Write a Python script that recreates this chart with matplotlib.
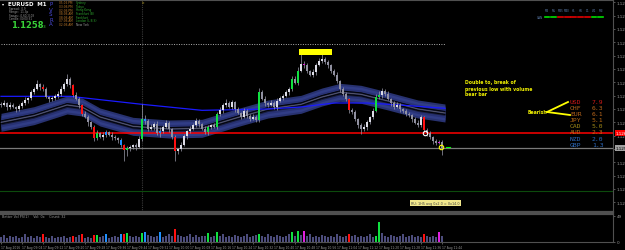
import matplotlib
matplotlib.use("Agg")
import matplotlib.pyplot as plt
from matplotlib.patches import Rectangle
from matplotlib.transforms import blended_transform_factory

W, H = 625, 251

# EURUSD M1 closes, 17 Aug 2016
closes = [
    1.12646, 1.12649, 1.12643, 1.12646, 1.12643, 1.12640, 1.12644, 1.12649, 1.12653, 1.12656,
    1.12665, 1.12670, 1.12677, 1.12673, 1.12670, 1.12658, 1.12655, 1.12656, 1.12660, 1.12662,
    1.12670, 1.12677, 1.12685, 1.12676, 1.12661, 1.12655, 1.12646, 1.12632, 1.12628, 1.12620,
    1.12613, 1.12596, 1.12604, 1.12598, 1.12601, 1.12605, 1.12601, 1.12598, 1.12596, 1.12593,
    1.12586, 1.12578, 1.12581, 1.12583, 1.12586, 1.12583, 1.12595, 1.12625, 1.12622, 1.12610,
    1.12613, 1.12617, 1.12604, 1.12607, 1.12613, 1.12619, 1.12610, 1.12598, 1.12577, 1.12580,
    1.12586, 1.12599, 1.12607, 1.12610, 1.12616, 1.12622, 1.12617, 1.12610, 1.12605, 1.12613,
    1.12616, 1.12613, 1.12632, 1.12638, 1.12646, 1.12649, 1.12643, 1.12650, 1.12640, 1.12634,
    1.12628, 1.12637, 1.12630, 1.12625, 1.12628, 1.12624, 1.12665, 1.12655, 1.12649, 1.12646,
    1.12649, 1.12643, 1.12652, 1.12656, 1.12660, 1.12665, 1.12670, 1.12685, 1.12679, 1.12697,
    1.12708, 1.12706, 1.12697, 1.12691, 1.12695, 1.12706, 1.12712, 1.12715, 1.12710, 1.12706,
    1.12697, 1.12691, 1.12682, 1.12670, 1.12662, 1.12655, 1.12638, 1.12635, 1.12625, 1.12616,
    1.12610, 1.12613, 1.12620, 1.12628, 1.12637, 1.12658, 1.12661, 1.12667, 1.12662, 1.12655,
    1.12649, 1.12643, 1.12646, 1.12640, 1.12637, 1.12632, 1.12631, 1.12625, 1.12619, 1.12616,
    1.12628, 1.12608, 1.12604, 1.12598, 1.12592, 1.12589, 1.12590, 1.12581,
]
# wick lengths in points (0.00001)
up_wick = [
    3, 4, 2, 5, 3, 2, 4, 3, 5, 2, 4, 3, 6, 2, 4, 3, 2, 4, 3, 5,
    4, 3, 8, 3, 2, 4, 3, 2, 5, 3, 2, 3, 4, 2, 5, 3, 2, 4, 3, 2,
    3, 2, 4, 3, 2, 3, 4, 22, 6, 3, 4, 3, 5, 6, 3, 4, 3, 2, 3, 2,
    4, 3, 2, 5, 3, 4, 3, 2, 4, 3, 2, 3, 4, 5, 3, 6, 3, 4, 2, 3,
    2, 5, 3, 2, 4, 3, 6, 3, 4, 2, 5, 3, 4, 3, 2, 4, 3, 5, 4, 6,
    18, 4, 3, 2, 5, 3, 4, 10, 3, 4, 2, 3, 4, 2, 3, 3, 2, 4, 3, 2,
    3, 4, 3, 2, 4, 5, 6, 4, 3, 5, 2, 3, 4, 3, 2, 3, 4, 2, 3, 4,
    3, 2, 4, 3, 2, 3, 4, 3,
]
dn_wick = [
    3, 2, 4, 3, 2, 4, 3, 2, 3, 4, 2, 3, 2, 4, 3, 2, 4, 3, 2, 3,
    2, 3, 2, 4, 3, 2, 4, 3, 2, 5, 3, 4, 3, 2, 4, 3, 2, 5, 3, 4,
    3, 16, 8, 4, 3, 4, 2, 3, 4, 3, 2, 4, 3, 6, 3, 2, 4, 3, 15, 4,
    3, 2, 4, 3, 2, 3, 4, 2, 3, 4, 3, 2, 3, 2, 4, 3, 2, 3, 4, 2,
    3, 2, 4, 3, 2, 4, 3, 2, 4, 3, 2, 3, 4, 2, 3, 2, 4, 3, 2, 3,
    2, 4, 3, 2, 3, 4, 2, 3, 2, 4, 3, 2, 3, 4, 2, 3, 4, 2, 3, 4,
    8, 3, 4, 2, 3, 2, 3, 4, 3, 2, 4, 3, 2, 4, 3, 2, 3, 4, 2, 3,
    3, 2, 4, 3, 5, 3, 2, 10,
]
volumes = [
    10, 13, 8, 11, 9, 12, 8, 10, 14, 9, 11, 8, 12, 10, 15, 9, 7, 11, 8, 10,
    9, 12, 8, 10, 11, 9, 13, 15, 8, 10, 7, 13, 13, 9, 11, 15, 8, 10, 12, 9,
    15, 15, 17, 11, 9, 12, 10, 17, 19, 13, 11, 9, 12, 19, 10, 12, 14, 11, 24, 13,
    11, 9, 12, 14, 10, 13, 9, 11, 12, 17, 10, 12, 19, 11, 14, 10, 12, 9, 13, 11,
    10, 12, 14, 9, 11, 13, 15, 12, 10, 14, 11, 9, 13, 12, 10, 11, 14, 19, 12, 20,
    13, 21, 11, 14, 10, 12, 9, 13, 11, 10, 12, 9, 14, 11, 10, 12, 15, 11, 13, 10,
    12, 9, 11, 14, 10, 11, 37, 16, 12, 10, 13, 11, 9, 12, 14, 10, 11, 13, 9, 12,
    10, 15, 11, 9, 12, 10, 19, 11,
]
red_bars = [14, 24, 27, 31, 41, 58, 116, 141]
green_bars = [32, 42, 47, 69, 72, 86, 97, 99, 125, 126]
blue_bars = [35, 40, 48, 53]
magenta_bars = [101, 146]

# ribbon centre and slow MA (bar index, price)
band_idx = [0, 11, 22, 27, 33, 44, 56, 67, 78, 89, 100, 107, 113, 120, 129, 139, 148]
band_mid = [1.12620, 1.12630, 1.12646, 1.12643, 1.12628, 1.12614, 1.12610, 1.12611, 1.12626,
            1.12640, 1.12647, 1.12658, 1.12665, 1.12662, 1.12652, 1.12640, 1.12634]
slow_idx = [0, 23, 35, 47, 67, 89, 100, 111, 122, 133, 148]
slow_ma = [1.12659, 1.12659, 1.12653, 1.12647, 1.12638, 1.12640, 1.12643, 1.12649, 1.12649,
           1.12646, 1.12641]

red_level = 1.12604
bid_level = 1.12581
dotted_level = 1.12738
green_level = 1.12517

price_ticks = [1.12500, 1.12520, 1.12540, 1.12560, 1.12580, 1.12600, 1.12620, 1.12640,
               1.12660, 1.12680, 1.12700, 1.12720, 1.12740, 1.12760, 1.12780, 1.12800]
time_labels = ["17 Aug 2016", "17 Aug 09:04", "17 Aug 09:12", "17 Aug 09:20", "17 Aug 09:28",
               "17 Aug 09:36", "17 Aug 09:44", "17 Aug 09:52", "17 Aug 10:00", "17 Aug 10:08",
               "17 Aug 10:16", "17 Aug 10:24", "17 Aug 10:32", "17 Aug 10:40", "17 Aug 10:48",
               "17 Aug 10:56", "17 Aug 11:04", "17 Aug 11:12", "17 Aug 11:20", "17 Aug 11:28",
               "17 Aug 11:36", "17 Aug 11:44"]

currencies = ["USD", "CHF", "EUR", "JPY", "CAD", "AUD", "NZD", "GBP"]
strength = [7.9, 6.3, 6.1, 5.1, 5.0, 2.3, 2.0, 1.3]
cur_colors = ["#d01818", "#b8661c", "#b8661c", "#b86a14", "#a08a18", "#b87018", "#2e6cc0", "#2e6cc0"]

timeframes = ["M1", "M5", "M15", "M30", "H1", "H4", "D1", "W1", "MN"]
tf_state = ["g", "g", "r", "r", "r", "r", "r", "g", "g"]

sessions = [("05:06 PM", "Sydney"), ("03:06 PM", "Tokyo"), ("02:06 PM", "Hong Kong"),
            ("08:06 AM", "Frankfurt (B)"), ("08:06 AM", "Frankfurt"),
            ("07:06 AM", "London (L.B.S)"), ("02:06 AM", "New York")]

PT = 0.00001
n = len(closes)
xs = list(range(n))
opens = [closes[0] + 2 * PT] + closes[:-1]

colors = {}
for i in red_bars:
    colors[i] = "#ff1010"
for i in green_bars:
    colors[i] = "#10e040"
for i in blue_bars:
    colors[i] = "#1e90ff"
for i in magenta_bars:
    colors[i] = "#e020e0"

fig = plt.figure(figsize=(W / 100, H / 100), dpi=100, facecolor="black")
ax = fig.add_axes([0, 38 / H, 613 / W, 212 / H], facecolor="black")
axv = fig.add_axes([0, 8 / H, 613 / W, 28 / H], facecolor="black")

xlim = (-1 / 3, 612 / 3)
ax.set_xlim(*xlim)
ax.set_ylim(1.124855, 1.128035)
axv.set_xlim(*xlim)
axv.set_ylim(0, 52)

# ribbon
for off, col in [(9, "#283270"), (7, "#313d86"), (4.5, "#283274"), (2.5, "#181d40")]:
    lo = [m - off * 1.5 * PT for m in band_mid]
    hi = [m + off * 1.5 * PT for m in band_mid]
    ax.fill_between(band_idx, lo, hi, color=col, lw=0, zorder=1)
for off, col, lw in [(1.5, "#000000", 0.6), (-1.5, "#000000", 0.6), (0, "#6a6a7a", 0.5)]:
    ax.plot(band_idx, [m + off * 1.5 * PT for m in band_mid], color=col, lw=lw, zorder=1.5)
ax.plot(slow_idx, slow_ma, color="#1a1aff", lw=0.9, zorder=2)

# horizontal levels and separator
ax.axhline(red_level, color="#ff0000", lw=1.1, zorder=2)
ax.axhline(bid_level, color="#7a7a7a", lw=0.9, zorder=2)
ax.axhline(green_level, color="#0c4a0c", lw=0.8, zorder=2)
ax.plot([0, n], [dotted_level, dotted_level], color="#b0b0b0", lw=0.7, ls=(0, (1, 1.5)), zorder=2)
ax.axvline(47, color="#3a3a3a", lw=0.8, ls=(0, (1, 1)), zorder=0.5)

# candles
highs = [max(o, c) + u * PT for o, c, u in zip(opens, closes, up_wick)]
lows = [min(o, c) - d * PT for o, c, d in zip(opens, closes, dn_wick)]
ax.vlines(xs, lows, highs, color="#9a9aaa", lw=0.5, zorder=3)
body_cols = [colors.get(i, "#dcdce6" if c >= o else "#9090a0") for i, (o, c) in enumerate(zip(opens, closes))]
ax.bar(xs, [max(abs(c - o), 0.6 * PT) for o, c in zip(opens, closes)], bottom=[min(o, c) for o, c in zip(opens, closes)],
       width=0.5, color=body_cols, lw=0, zorder=4)

# marks
ax.add_patch(Rectangle((99.5, 1.12721), 10.8, 0.00009, color="#ffff00", lw=0, zorder=5))
ax.plot([141.3], [red_level], "o", ms=3.2, mfc="none", mec="white", mew=0.8, zorder=6)
ax.plot([146.7], [1.12583], "o", ms=3.2, mfc="none", mec="#ffff00", mew=0.8, zorder=6)
ax.plot([148.3, 149.7], [1.12583, 1.12583], color="#00ff00", lw=0.8, zorder=6)

# price axis
ax.yaxis.tick_right()
ax.set_yticks(price_ticks)
ax.set_yticklabels([f"{p:.5f}" for p in price_ticks])
ax.tick_params(axis="y", colors="#9a9a9a", labelsize=3, length=1.5, width=0.4, pad=1)
ax.set_xticks([])
tr = blended_transform_factory(ax.transAxes, ax.transData)
ax.text(1.004, red_level, f"{red_level:.5f}", transform=tr, fontsize=3, color="white", va="center",
        bbox=dict(fc="#ff0000", ec="none", pad=0.6), zorder=7, clip_on=False)
ax.text(1.004, bid_level, f"{bid_level:.5f}", transform=tr, fontsize=3, color="black", va="center",
        bbox=dict(fc="#a0a0a0", ec="none", pad=0.6), zorder=7, clip_on=False)

# volume panel
vol_cols = [colors.get(i, "#4c4c7c") for i in xs]
axv.bar(xs, volumes, width=0.5, color=vol_cols, lw=0)
axv.yaxis.tick_right()
axv.set_yticks([0, 49])
axv.tick_params(axis="y", colors="#9a9a9a", labelsize=3, length=1.5, width=0.4, pad=1)
axv.set_xticks(list(range(0, n, 7)))
axv.set_xticklabels(time_labels, ha="left", family="Liberation Sans Narrow")
axv.tick_params(axis="x", colors="#9a9a9a", labelsize=2.2, length=1.5, width=0.4, pad=0.5)

for a in (ax, axv):
    for side in ("top", "bottom", "left", "right"):
        a.spines[side].set_color("#505050")
        a.spines[side].set_linewidth(0.8)
    a.spines["left"].set_visible(False)
ax.spines["bottom"].set_linewidth(1.6)
axv.spines["top"].set_linewidth(1.6)


def fx(x, y):
    return x / W, 1 - y / H


# top-left info block
fig.text(*fx(2, 4), "\u25be", color="white", fontsize=3, va="center")
fig.text(*fx(8, 4), "EURUSD  M1", color="white", fontsize=4, weight="bold", va="center")
for k, line in enumerate(["Spread:  0.9", "Range:  11.3p", "Swaps: -0.60/-0.03", "Candle: 00:00:31"]):
    fig.text(*fx(9, 9 + 3.3 * k), line, color="#9a9a9a", fontsize=2.0, va="center")
fig.text(*fx(11, 27.5), "1.1258", color="#38d038", fontsize=6, weight="bold", va="baseline")
fig.text(*fx(43, 27.5), "3", color="#38d038", fontsize=3.2, va="baseline")
for k, ch in enumerate("PVSRA"):
    fig.text(*fx(49, 5 + 5 * k), ch, color="#4a4ad8", fontsize=4, va="center")
for k, (t, name) in enumerate(sessions):
    y = 3.3 + 3.6 * k
    fig.text(*fx(59, y), t, color="#c07a2a", fontsize=2.1, va="center")
    fig.text(*fx(76, y), name, color="#9a9a9a" if k == 6 else "#2ea82e", fontsize=2.1, va="center")
fig.text(*fx(142, 3), "Le", color="#a08a20", fontsize=2.2, va="center")

# timeframe table
for k, (tf, st) in enumerate(zip(timeframes, tf_state)):
    x = 547 + 6.7 * k
    fig.text(*fx(x, 11), tf, color="#5a7aa8", fontsize=2.0, va="center", ha="center")
    fig.add_artist(plt.Line2D([(x - 2.4) / W, (x + 2.4) / W], [1 - 18 / H] * 2,
                              color="#00e000" if st == "g" else "#e00000", lw=1.2))
fig.text(*fx(537, 18), "CAN", color="#5a7aa8", fontsize=2.2, va="center")

# notes
for k, line in enumerate(["Double to, break of", "previous low with volume", "bear bar"]):
    fig.text(*fx(465, 83 + 6 * k), line, color="#f0f000", fontsize=3.3, weight="bold", va="center")
fig.text(*fx(528, 113), "Bearish", color="#f0f000", fontsize=3.3, weight="bold", va="center")
for x2, y2 in [(568, 103), (570, 116)]:
    fig.add_artist(plt.Line2D([547 / W, x2 / W], [1 - 113 / H, 1 - y2 / H], color="#ffff00", lw=1.3))

for k, (cur, val, col) in enumerate(zip(currencies, strength, cur_colors)):
    y = 102 + 6.2 * k
    fig.text(*fx(570, y), cur, color=col, fontsize=4.6, family="DejaVu Sans Mono", va="center")
    fig.text(*fx(592, y), f"{val:.1f}", color=col, fontsize=4.6, family="DejaVu Sans Mono", va="center")

fig.text(*fx(411, 204), "RU: 1H5 avg 0x2.0 = 0x14.0", color="#404040", fontsize=2.4, va="center",
         bbox=dict(fc="#f0e68c", ec="none", pad=0.8))
fig.text(*fx(2, 217.5), "Better Vol PS(1)    Vol: 0x    Count: 32", color="#9a9a9a", fontsize=2.4, va="center")

fig.savefig("out.png", dpi=100, facecolor="black")
